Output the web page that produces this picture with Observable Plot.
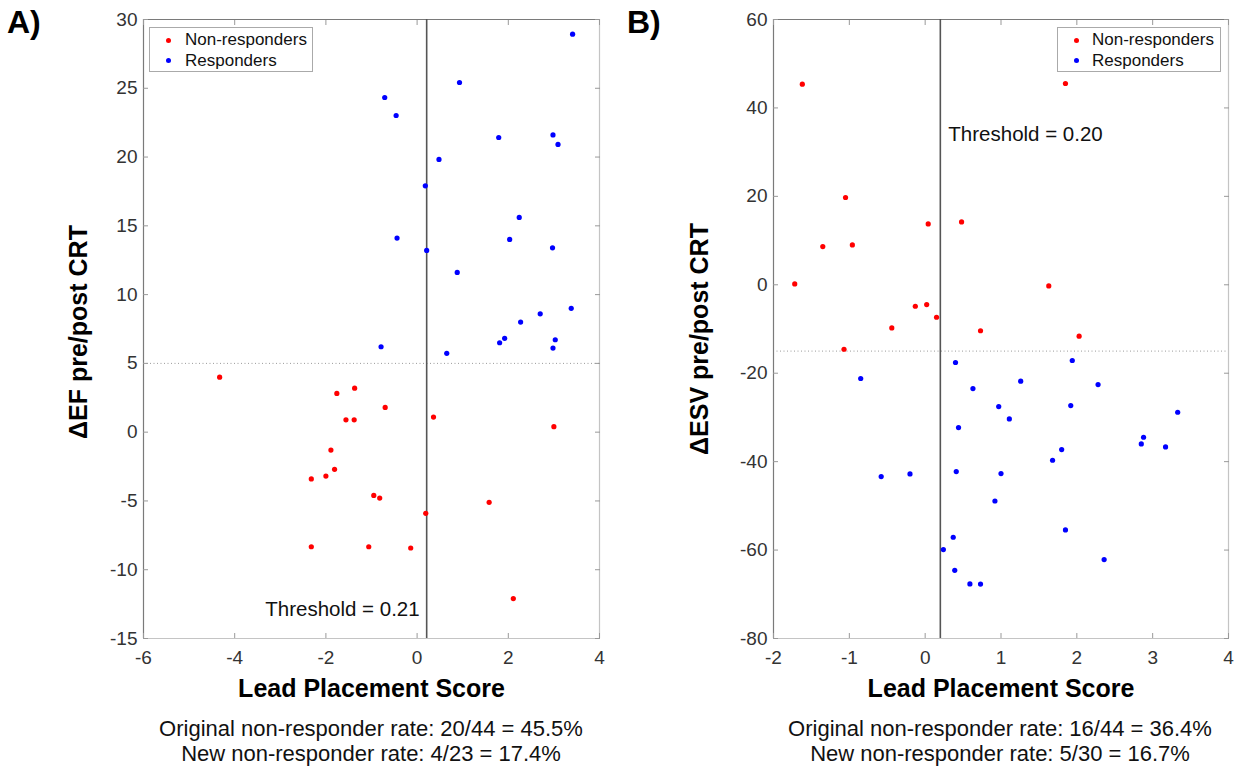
<!DOCTYPE html>
<html><head><meta charset="utf-8">
<script src="https://cdn.jsdelivr.net/npm/d3@7"></script>
<script src="https://cdn.jsdelivr.net/npm/@observablehq/plot@0.6"></script>
<style>
body{margin:0;background:#fff;font-family:"Liberation Sans",Arial,Helvetica,sans-serif;}
#wrap{position:relative;width:1239px;height:766px;overflow:hidden;background:#fff;}
.panel{position:absolute;top:0;}
.tag{position:absolute;font-weight:bold;font-size:32px;line-height:32px;color:#000;}
.legend{position:absolute;box-sizing:border-box;border:1px solid #aaa;background:#fff;width:164px;height:45px;font-size:17px;color:#111;}
.legend .row{position:absolute;left:0;height:20px;line-height:20px;white-space:nowrap;}
.legend .dot{position:absolute;width:5px;height:5px;border-radius:50%;top:7.5px;}
.legend .lbl{position:absolute;top:0;}
.caption{position:absolute;width:600px;text-align:center;font-size:22px;color:#111;line-height:25px;white-space:nowrap;}
</style>
</head><body>
<div id="wrap"></div>
<script>
// ---------- data ----------
const seriesNames = ["Non-responders", "Responders"];
const seriesColors = ["#ff0000", "#0000ff"];

// Panel A: ΔEF
const aNonX = [-4.33,-1.76,-1.37,-0.70,-1.56,-1.38,0.36,3.00,-1.89,-1.81,-2.00,-2.32,-0.95,-0.82,1.58,0.19,-2.32,-1.06,-0.14,2.11];
const aNonY = [4.0,2.82,3.2,1.8,0.9,0.9,1.1,0.4,-1.3,-2.7,-3.19,-3.4,-4.6,-4.79,-5.1,-5.9,-8.33,-8.33,-8.42,-12.1];
const aResX = [3.41,0.93,-0.71,-0.46,1.79,2.98,3.09,0.48,0.18,2.24,-0.44,2.03,0.21,2.97,0.88,3.38,2.70,2.27,-0.79,1.81,1.92,3.03,2.98,0.65];
const aResY = [28.93,25.42,24.33,23.02,21.42,21.61,20.92,19.83,17.91,15.61,14.11,14.01,13.21,13.4,11.61,9.0,8.6,8.0,6.21,6.5,6.82,6.72,6.11,5.73];
const aXTicks = [-6,-4,-2,0,2,4];
const aYTicks = [-15,-10,-5,0,5,10,15,20,25,30];
const aThreshold = 0.21;
const aCutoff = 5;
const aThresholdLabelY = -12.9;

// Panel B: ΔESV
const bNonX = [-1.62,1.85,-1.05,0.04,0.48,-1.35,-0.96,-1.72,1.63,-0.13,0.02,0.15,-0.44,0.73,-1.07,2.03];
const bNonY = [45.37,45.52,19.74,13.77,14.22,8.65,9.02,0.2,-0.26,-4.85,-4.47,-7.34,-9.76,-10.4,-14.58,-11.63];
const bResX = [0.40,1.94,-0.85,1.26,2.28,0.63,0.97,1.92,3.33,1.11,0.44,2.88,2.85,3.17,1.80,1.68,0.41,-0.20,-0.58,1.00,0.92,1.85,0.37,0.24,2.36,0.39,0.59,0.73];
const bResY = [-17.58,-17.13,-21.2,-21.81,-22.56,-23.47,-27.54,-27.31,-28.83,-30.34,-32.29,-34.48,-36.0,-36.67,-37.26,-39.68,-42.24,-42.78,-43.37,-42.69,-48.9,-55.45,-57.1,-59.88,-62.14,-64.57,-67.66,-67.7];
const bXTicks = [-2,-1,0,1,2,3,4];
const bYTicks = [-80,-60,-40,-20,0,20,40,60];
const bThreshold = 0.20;
const bCutoff = -15;
const bThresholdLabelY = 34;

const xLabel = "Lead Placement Score";
const aYLabel = "ΔEF pre/post CRT";
const bYLabel = "ΔESV pre/post CRT";
const aCaption = ["Original non-responder rate: 20/44 = 45.5%", "New non-responder rate: 4/23 = 17.4%"];
const bCaption = ["Original non-responder rate: 16/44 = 36.4%", "New non-responder rate: 5/30 = 16.7%"];

// ---------- build ----------
const FONT = '"Liberation Sans", Arial, Helvetica, sans-serif';
const fmt = d => String(d);
const blank = () => "";

function rows(xs, ys, s) { return xs.map((x, i) => ({x, y: ys[i], s})); }

function panel(o) {
  const data = [...rows(o.nonX, o.nonY, seriesNames[0]), ...rows(o.resX, o.resY, seriesNames[1])];
  const xd = [o.xTicks[0], o.xTicks[o.xTicks.length - 1]];
  const yd = [o.yTicks[0], o.yTicks[o.yTicks.length - 1]];
  const dark = "#7a7a7a", light = "#c4c4c4";
  return Plot.plot({
    width: o.width, height: 705,
    marginLeft: o.ml, marginRight: o.mr, marginTop: 19, marginBottom: 67,
    style: {fontFamily: FONT, fontSize: "19px", color: "#333", background: "transparent", overflow: "visible"},
    x: {domain: xd, ticks: o.xTicks},
    y: {domain: yd, ticks: o.yTicks},
    color: {domain: seriesNames, range: seriesColors},
    marks: [
      Plot.ruleY([o.cutoff], {stroke: "#9a9a9a", strokeWidth: 1, strokeDasharray: "1,2.5"}),
      Plot.ruleX([xd[1]], {stroke: light, strokeWidth: 1.2}),
      Plot.ruleY([yd[0]], {stroke: light, strokeWidth: 1.2}),
      Plot.ruleX([xd[0]], {stroke: dark, strokeWidth: 1.2}),
      Plot.ruleY([yd[1]], {stroke: dark, strokeWidth: 1.2}),
      Plot.axisX({anchor: "bottom", ticks: o.xTicks, tickSize: -5, tickFormat: blank, stroke: "#999", label: null}),
      Plot.axisX({anchor: "top", ticks: o.xTicks, tickSize: -5, tickFormat: blank, stroke: "#999", label: null}),
      Plot.axisY({anchor: "left", ticks: o.yTicks, tickSize: -5, tickFormat: blank, stroke: "#999", label: null}),
      Plot.axisY({anchor: "right", ticks: o.yTicks, tickSize: -5, tickFormat: blank, stroke: "#999", label: null}),
      Plot.text(o.xTicks, {x: d => d, text: fmt, frameAnchor: "bottom", textAnchor: "middle", lineAnchor: "top", dy: 12, fontSize: 19, fill: "#333"}),
      Plot.text(o.yTicks, {y: d => d, text: fmt, frameAnchor: "left", textAnchor: "end", lineAnchor: "middle", dx: -6, fontSize: 19, fill: "#333"}),
      Plot.ruleX([o.threshold], {stroke: "#555", strokeWidth: 1.6}),
      Plot.dot(data, {x: "x", y: "y", fill: "s", r: 2.6, stroke: null}),
      Plot.text([`Threshold = ${o.threshold.toFixed(2)}`], {x: () => o.threshold, y: () => o.labelY, textAnchor: o.labelAnchor, lineAnchor: "middle", dx: o.labelDx, fontSize: 20.5, fill: "#111"}),
      Plot.text([xLabel], {frameAnchor: "bottom", textAnchor: "middle", lineAnchor: "middle", dy: 50, fontSize: 25, fontWeight: "bold", fill: "#000"}),
      Plot.text([o.yLabel], {frameAnchor: "left", textAnchor: "middle", lineAnchor: "middle", rotate: -90, dx: o.yLabelDx, dy: o.yLabelDy, fontSize: 25, fontWeight: "bold", fill: "#000"})
    ]
  });
}

const wrap = document.getElementById("wrap");

function addPanel(left, width, opts) {
  const div = document.createElement("div");
  div.className = "panel";
  div.style.left = left + "px";
  div.appendChild(panel({width, ...opts}));
  wrap.appendChild(div);
}

addPanel(0, 620, {ml: 143, mr: 21, nonX: aNonX, nonY: aNonY, resX: aResX, resY: aResY,
  xTicks: aXTicks, yTicks: aYTicks, threshold: aThreshold, cutoff: aCutoff,
  labelY: aThresholdLabelY, labelAnchor: "end", labelDx: -7, yLabel: aYLabel, yLabelDx: -64.5, yLabelDy: 3});
addPanel(620, 619, {ml: 153, mr: 11, nonX: bNonX, nonY: bNonY, resX: bResX, resY: bResY,
  xTicks: bXTicks, yTicks: bYTicks, threshold: bThreshold, cutoff: bCutoff,
  labelY: bThresholdLabelY, labelAnchor: "start", labelDx: 8, yLabel: bYLabel, yLabelDx: -74, yLabelDy: 10});

function addTag(text, left) {
  const d = document.createElement("div");
  d.className = "tag"; d.textContent = text;
  d.style.left = left + "px"; d.style.top = "6px";
  wrap.appendChild(d);
}
addTag("A)", 7);
addTag("B)", 627);

function addLegend(left, dotX, textX) {
  const lg = document.createElement("div");
  lg.className = "legend";
  lg.style.left = left + "px"; lg.style.top = "27px";
  seriesNames.forEach((name, i) => {
    const r = document.createElement("div");
    r.className = "row"; r.style.top = (2 + i * 20.7) + "px";
    const dot = document.createElement("span");
    dot.className = "dot"; dot.style.left = (dotX - 2.5) + "px"; dot.style.background = seriesColors[i];
    const t = document.createElement("span");
    t.className = "lbl"; t.style.left = textX + "px"; t.textContent = name;
    r.appendChild(dot); r.appendChild(t);
    lg.appendChild(r);
  });
  wrap.appendChild(lg);
}
addLegend(149, 18, 35);
addLegend(1057, 18, 34);

function addCaption(lines, centerX) {
  const c = document.createElement("div");
  c.className = "caption";
  c.style.left = (centerX - 300) + "px"; c.style.top = "716px";
  c.innerHTML = lines.map(l => `<div>${l}</div>`).join("");
  wrap.appendChild(c);
}
addCaption(aCaption, 371);
addCaption(bCaption, 1000);
</script>
</body></html>
